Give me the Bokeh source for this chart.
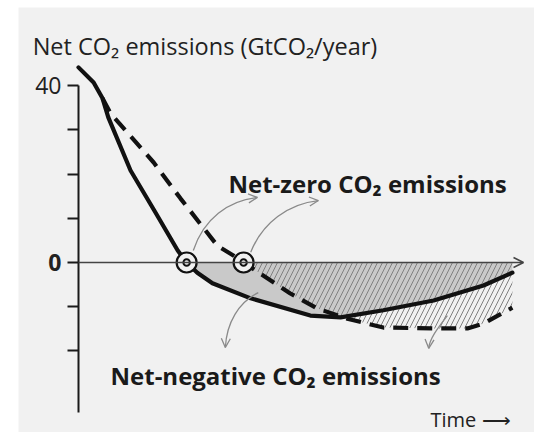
import numpy as np
from bokeh.plotting import figure
from bokeh.models import Range1d, LinearAxis, FixedTicker, Arrow, OpenHead
from bokeh.core.properties import value
from bokeh.embed import file_html
from bokeh.resources import INLINE

# ---- data (arbitrary time units) ----
time_solid = [0.0, 3.4, 5.4, 6.7, 11.7, 17.3, 22.3, 24.3, 26.7, 30.1, 38.7, 52.1, 58.9, 68.5, 79.8, 91.0, 97.5]
co2_solid = [44.1, 40.7, 37.1, 32.8, 20.8, 11.3, 2.7, 0.0, -2.3, -4.7, -8.1, -12.0, -12.4, -10.8, -8.6, -5.2, -2.3]
time_dashed = [5.4, 7.2, 16.9, 22.9, 31.2, 34.8, 37.1, 39.8, 47.6, 53.7, 60.4, 68.5, 79.8, 87.4, 91.0, 97.5]
co2_dashed = [37.1, 33.7, 22.6, 14.5, 3.8, 1.6, 0.0, -1.8, -7.0, -10.4, -12.7, -14.7, -14.9, -14.9, -13.8, -10.2]
zero_times = [24.3, 37.1]
y_ticks = [40, 30, 20, 10, 0, -10, -20]
y_tick_labels = {40: "40"}
time_end = 100.0

BG = "#f1f1f1"
FONT_NAME = "Open Sans"
FONT = value(FONT_NAME)

p = figure(width=534, height=432, x_range=Range1d(-13.48, 102.47), y_range=Range1d(-38.42, 57.63),
           output_backend="svg", toolbar_location=None, x_axis_location=None, y_axis_location=None,
           min_border_left=18, min_border_top=7, min_border_right=0, min_border_bottom=0,
           background_fill_color=BG, border_fill_color="white", outline_line_color=None)
p.grid.grid_line_color = None

# y axis fixed at time 0
yax = LinearAxis(fixed_location=0, ticker=FixedTicker(ticks=y_ticks), bounds=(-33.9, 40),
                 major_tick_in=0, major_tick_out=11, minor_tick_out=0, minor_tick_in=0,
                 axis_line_width=2, axis_line_color="#1a1a1a",
                 major_tick_line_width=2, major_tick_line_color="#1a1a1a",
                 major_label_overrides={t: y_tick_labels.get(t, "") for t in y_ticks},
                 major_label_standoff=6, major_label_text_font=FONT_NAME,
                 major_label_text_font_size="23px", major_label_text_color="#222222")
p.add_layout(yax, "left")
yax0 = LinearAxis(fixed_location=0, ticker=FixedTicker(ticks=[0]), axis_line_color=None,
                  major_tick_in=0, major_tick_out=11, minor_tick_out=0, minor_tick_in=0,
                  major_tick_line_color=None, major_label_standoff=6,
                  major_label_overrides={0: "0"}, major_label_text_font=FONT_NAME,
                  major_label_text_font_style="bold", major_label_text_font_size="23px",
                  major_label_text_color="#222222")
p.add_layout(yax0, "left")

ts = np.array(time_solid); cs = np.array(co2_solid)
td = np.array(time_dashed); cd = np.array(co2_dashed)
ms = cs <= 0
md = cd <= 0

# shaded areas
p.varea(x=ts[ms], y1=0, y2=cs[ms], fill_color="#c9c9c9", fill_alpha=1.0)
p.varea(x=td[md], y1=0, y2=cd[md], fill_alpha=0, hatch_pattern="/", hatch_color="#808080",
        hatch_scale=10, hatch_weight=1.0)

# zero line with arrow
p.add_layout(Arrow(x_start=0, y_start=0, x_end=time_end, y_end=0, line_color="#444444", line_width=1.5,
                   end=OpenHead(size=10, line_color="#444444", line_width=1.5)))

# curves
p.line(td, cd, line_color="#111111", line_width=4.2, line_dash="15 9", line_cap="butt")
p.line(ts, cs, line_color="#111111", line_width=4.2, line_join="round", line_cap="round")

# zero-crossing markers
p.scatter(zero_times, [0, 0], marker="circle", size=20, fill_color=BG, line_color="#111111", line_width=2.2)
p.scatter(zero_times, [0, 0], marker="circle", size=6.5, fill_color=BG, line_color="#111111", line_width=2)

# curved pointer arrows
ARC = "#8a8a8a"
arcs = [
    # x0, y0, cx0, cy0, cx1, cy1, x1, y1
    (25.8, 2.7, 28.1, 9.9, 33.7, 14.0, 40.2, 14.7),
    (38.7, 2.3, 41.3, 9.0, 47.2, 13.3, 53.9, 14.0),
    (40.4, -6.8, 36.0, -9.0, 33.3, -13.6, 33.0, -19.2),
    (82.9, -12.0, 80.7, -14.9, 78.9, -17.2, 78.7, -19.4),
]
p.bezier(x0=[a[0] for a in arcs], y0=[a[1] for a in arcs], cx0=[a[2] for a in arcs], cy0=[a[3] for a in arcs],
         cx1=[a[4] for a in arcs], cy1=[a[5] for a in arcs], x1=[a[6] for a in arcs], y1=[a[7] for a in arcs],
         line_color=ARC, line_width=1.3)
for a in arcs:
    dx, dy = a[6] - a[4], a[7] - a[5]
    n = (dx * dx + dy * dy) ** 0.5
    p.add_layout(Arrow(x_start=a[6] - dx / n * 0.3, y_start=a[7] - dy / n * 0.3, x_end=a[6], y_end=a[7],
                       line_alpha=0, end=OpenHead(size=9, line_color=ARC, line_width=1.3)))

# texts
p.text(x=[-10.3], y=[49.0], text=["Net CO₂ emissions (GtCO₂/year)"], text_font=FONT, text_font_size="23.5px",
       text_color="#222222", text_baseline="alphabetic", text_align="left")
p.text(x=[33.7], y=[17.9], text=["Net-zero CO₂ emissions"], text_font=FONT, text_font_size="24px",
       text_font_style="bold", text_color="#1a1a1a", text_baseline="alphabetic", text_align="left")
p.text(x=[7.2], y=[-25.5], text=["Net-negative CO₂ emissions"], text_font=FONT, text_font_size="24px",
       text_font_style="bold", text_color="#1a1a1a", text_baseline="alphabetic", text_align="left")
p.text(x=[79.1], y=[-35.4], text=["Time ⟶"], text_font=FONT, text_font_size="20px",
       text_color="#222222", text_baseline="alphabetic", text_align="left")

open("out.html", "w").write(file_html(p, INLINE))
